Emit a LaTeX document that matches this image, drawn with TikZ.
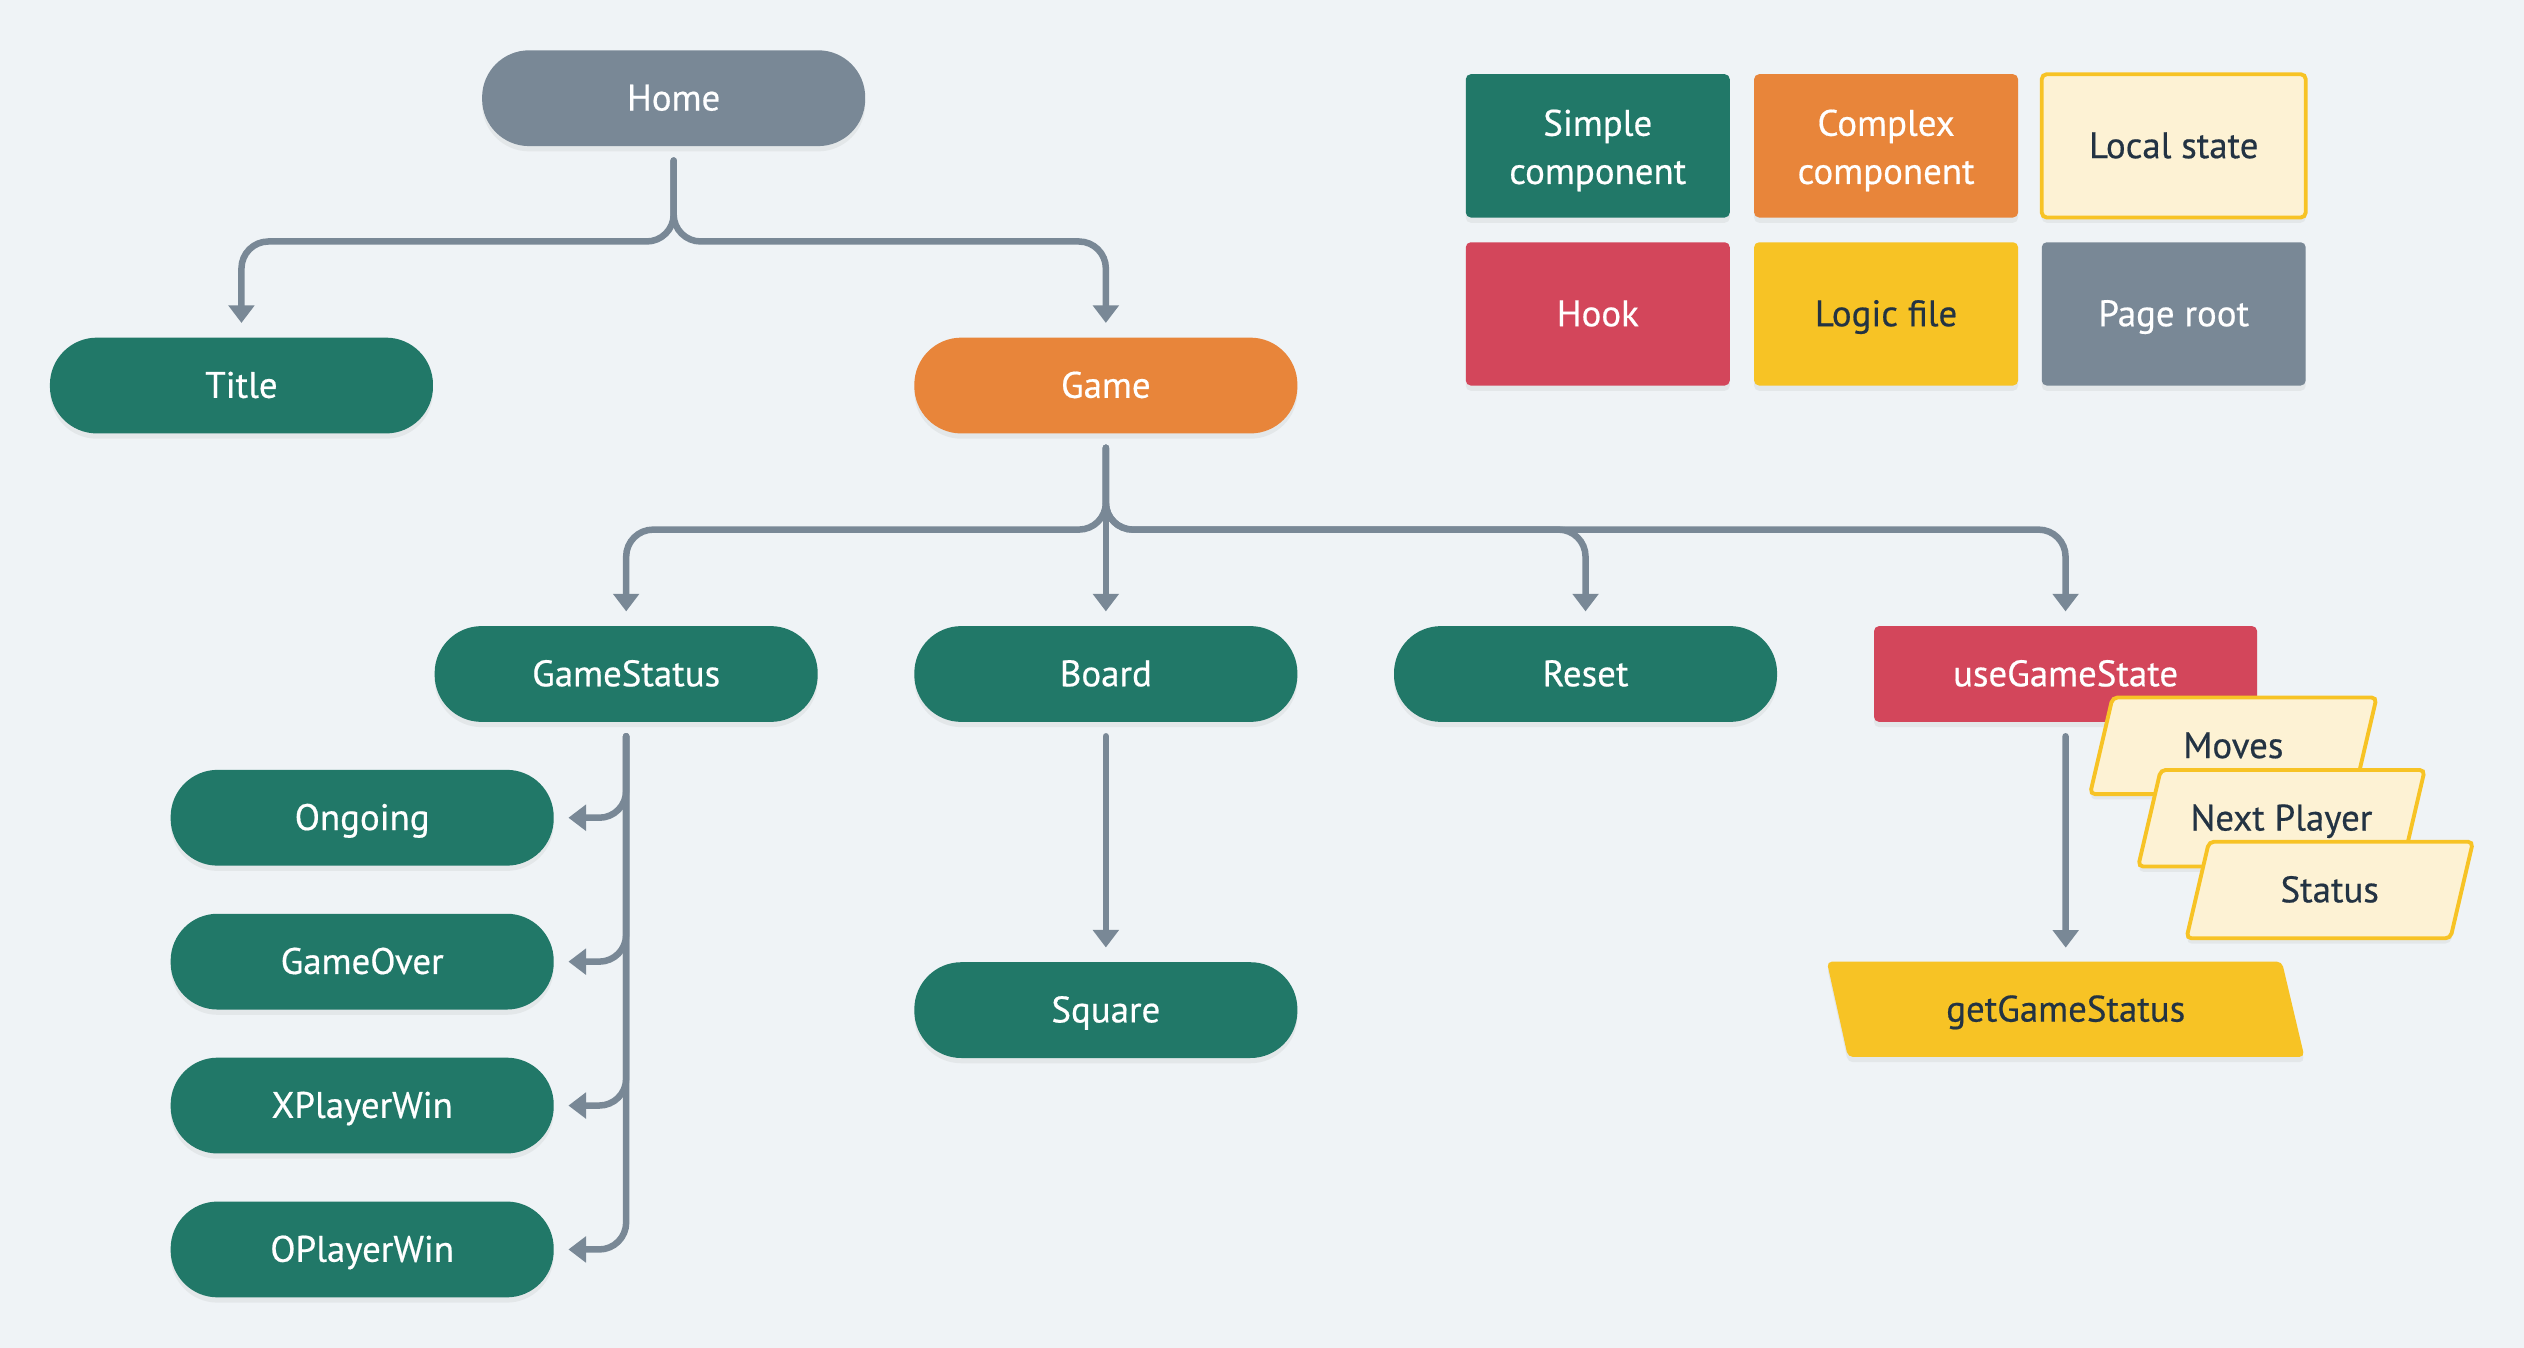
\documentclass[tikz,border=0pt]{standalone}
\usepackage{fontspec}
\setmainfont{PT Sans}[FakeBold=0.5]
\usetikzlibrary{arrows.meta,shadows,calc}
\definecolor{bgc}{HTML}{EFF3F6}
\definecolor{cgreen}{HTML}{217868}
\definecolor{corange}{HTML}{E8853A}
\definecolor{cred}{HTML}{D3465B}
\definecolor{cyellow}{HTML}{F7C325}
\definecolor{clight}{HTML}{FDF2D4}
\definecolor{cgray}{HTML}{798896}
\definecolor{cdark}{HTML}{233343}
\begin{document}
\begin{tikzpicture}[x=0.016097cm,y=-0.016097cm,
  font=\fontsize{10.5}{13.7}\selectfont,
  shade/.style={drop shadow={opacity=0.10, shadow xshift=0pt, shadow yshift=-1.5pt}},
  capc/.style={text height=0.7em, text depth=0pt},
  pill/.style={rectangle, rounded corners=0.47cm, minimum width=3.831cm, minimum height=0.958cm, inner sep=0pt, text=white, capc, shade},
  simple/.style={pill, fill=cgreen},
  complexc/.style={pill, fill=corange},
  pageroot/.style={pill, fill=cgray},
  hookbox/.style={rectangle, rounded corners=0.05cm, minimum width=3.831cm, minimum height=0.958cm, inner sep=0pt, text=white, fill=cred, capc, shade},
  legbox/.style={rectangle, rounded corners=0.05cm, minimum width=2.64cm, minimum height=1.433cm, inner sep=0pt, shade},
  legtwo/.style={label={[align=center, text=white, yshift=-1.3pt]center:#1}},
  lsbox/.style={fill=clight, draw=cyellow, line width=1.1pt, rounded corners=0.05cm, shade},
  logicbox/.style={fill=cyellow, rounded corners=0.05cm, shade},
  lstext/.style={inner sep=0pt, text=cdark, capc},
  conn/.style={draw=cgray, line width=1.85pt, line cap=round, rounded corners=0.27cm, shorten <=0.137cm, shorten >=0.14cm, -{Triangle[width=7.2pt,length=5pt]}}
]
\fill[bgc] (0,0) rectangle (1568,837.4);

% legend
\node[legbox, fill=cgreen, legtwo={Simple\\component}] (lsimple) at (992.6,90.6) {};
\node[legbox, fill=corange, legtwo={Complex\\component}] (lcomplex) at (1171.7,90.6) {};
\node[legbox, fill=clight, draw=cyellow, line width=1.1pt, text=cdark, capc] (llocal) at (1350.4,90.6) {Local state};
\node[legbox, fill=cred, text=white, capc] (lhook) at (992.6,195) {Hook};
\node[legbox, fill=cyellow, text=cdark, capc] (llogic) at (1171.7,195) {Logic file};
\node[legbox, fill=cgray, text=white, capc] (lroot) at (1350.4,195) {Page root};

% bus coordinates
\coordinate (b1) at (0,150);
\coordinate (b2) at (0,329);

% main nodes
\node[pageroot] (home) at (418.5,61) {Home};
\node[simple] (title) at (150,239.5) {Title};
\node[complexc] (game) at (687,239.5) {Game};
\node[simple] (gstatus) at (389,418.7) {GameStatus};
\node[simple] (board) at (687,418.7) {Board};
\node[simple] (reset) at (985,418.7) {Reset};
\node[hookbox] (usegs) at (1283.2,418.7) {useGameState};
\node[simple] (ongoing) at (225,508) {Ongoing};
\node[simple] (gameover) at (225,597.4) {GameOver};
\node[simple] (xwin) at (225,686.8) {XPlayerWin};
\node[simple] (owin) at (225,776.2) {OPlayerWin};
\node[simple] (square) at (687,627.5) {Square};

% logic file
\begin{scope}[shift={(1283.3,627)}]
  \path[logicbox] (-148.4,-29.6) -- (134.3,-29.6) -- (148.3,29.6) -- (-135.3,29.6) -- cycle;
\end{scope}
\node[lstext] (getgs) at (1283.3,627) {getGameStatus};
\coordinate (gtop) at (1283.3,597.4);

% local state
\begin{scope}[shift={(1387.4,463.3)}]
  \draw[lsbox] (-75,-30) -- (89,-30) -- (75,30) -- (-89,30) -- cycle;
\end{scope}
\node[lstext] (moves) at (1387.4,463.3) {Moves};
\begin{scope}[shift={(1417.3,508.3)}]
  \draw[lsbox] (-75,-30) -- (89,-30) -- (75,30) -- (-89,30) -- cycle;
\end{scope}
\node[lstext] (nextp) at (1417.3,508.3) {Next Player};
\begin{scope}[shift={(1447.3,552.9)}]
  \draw[lsbox] (-75,-30) -- (89,-30) -- (75,30) -- (-89,30) -- cycle;
\end{scope}
\node[lstext] (stat) at (1447.3,552.9) {Status};

% connectors
\draw[conn] (home.south) -- (home.south |- b1) -- (title.north |- b1) -- (title.north);
\draw[conn] (home.south) -- (home.south |- b1) -- (game.north |- b1) -- (game.north);

\draw[conn] (game.south) -- (game.south |- b2) -- (gstatus.north |- b2) -- (gstatus.north);
\draw[conn] (game.south) -- (board.north);
\draw[conn] (game.south) -- (game.south |- b2) -- (reset.north |- b2) -- (reset.north);
\draw[conn] (game.south) -- (game.south |- b2) -- (usegs.north |- b2) -- (usegs.north);

\draw[conn] (gstatus.south) -- (gstatus.south |- ongoing.east) -- (ongoing.east);
\draw[conn] (gstatus.south) -- (gstatus.south |- gameover.east) -- (gameover.east);
\draw[conn] (gstatus.south) -- (gstatus.south |- xwin.east) -- (xwin.east);
\draw[conn] (gstatus.south) -- (gstatus.south |- owin.east) -- (owin.east);

\draw[conn] (board.south) -- (square.north);
\draw[conn] (usegs.south) -- (gtop);
\end{tikzpicture}
\end{document}
